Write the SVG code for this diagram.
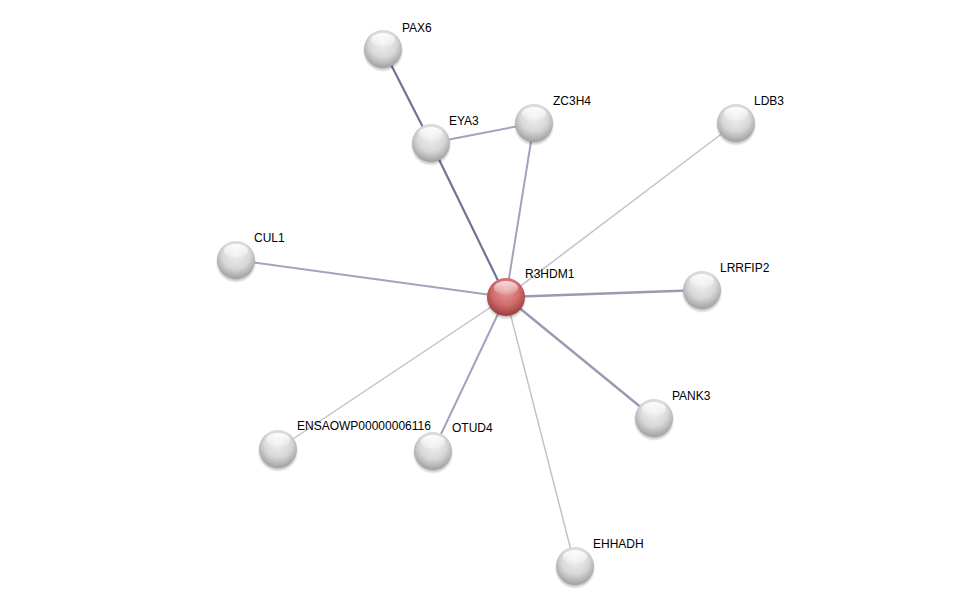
<svg xmlns="http://www.w3.org/2000/svg" width="976" height="611" viewBox="0 0 976 611">
<defs>
<radialGradient id="gw" cx="0.5" cy="0.4" r="0.6" fx="0.5" fy="0.3">
<stop offset="0" stop-color="#f2f2f2"/>
<stop offset="0.6" stop-color="#d8d8d8"/>
<stop offset="1" stop-color="#a0a0a0"/>
</radialGradient>
<radialGradient id="gr" cx="0.5" cy="0.4" r="0.6" fx="0.5" fy="0.3">
<stop offset="0" stop-color="#e89a9a"/>
<stop offset="0.6" stop-color="#d06c6c"/>
<stop offset="1" stop-color="#9a3c3c"/>
</radialGradient>
<linearGradient id="hl" x1="0" y1="0" x2="0" y2="1">
<stop offset="0" stop-color="#ffffff" stop-opacity="0.95"/>
<stop offset="1" stop-color="#ffffff" stop-opacity="0.1"/>
</linearGradient>
<radialGradient id="sh" cx="0.5" cy="0.5" r="0.5">
<stop offset="0.7" stop-color="#000" stop-opacity="0.4"/>
<stop offset="1" stop-color="#000" stop-opacity="0"/>
</radialGradient>
<g id="ball">
<circle cx="0" cy="2.5" r="20.5" fill="url(#sh)"/>
<circle r="19" fill="url(#gw)"/>
<ellipse cx="0" cy="-9" rx="12" ry="7" fill="url(#hl)"/>
</g>
<g id="ballr">
<circle cx="0" cy="2.5" r="20.5" fill="url(#sh)"/>
<circle r="19" fill="url(#gr)"/>
<ellipse cx="0" cy="-9" rx="12" ry="7" fill="url(#hl)" opacity="0.8"/>
</g>
</defs>
<style>
text{font-family:"Liberation Sans",Arial,sans-serif;font-size:12px;fill:#000}
.e{fill:none;stroke-linecap:round}
.dk{stroke:#707494;stroke-width:2.2}
.md{stroke:#a4a2bc;stroke-width:2}
.lt{stroke:#c2c2ca;stroke-width:1.5}
</style>
<rect width="976" height="611" fill="#fff"/>
<g id="edges">
<line class="e dk" x1="383" y1="49" x2="431" y2="143"/>
<line class="e md" x1="431" y1="143" x2="534" y2="123"/>
<line class="e dk" x1="431" y1="143" x2="506" y2="297"/>
<line class="e md" x1="534" y1="123" x2="506" y2="297"/>
<line class="e lt" x1="736" y1="123" x2="506" y2="297"/>
<line class="e md" x1="236" y1="260" x2="506" y2="297"/>
<line class="e md" x1="702" y1="290" x2="506" y2="297" style="stroke:#9a9ab2;stroke-width:2.4"/>
<line class="e md" x1="654" y1="418" x2="506" y2="297" style="stroke:#9a9ab2;stroke-width:2.4"/>
<line class="e lt" x1="278" y1="449" x2="506" y2="297"/>
<line class="e md" x1="433" y1="451" x2="506" y2="297"/>
<line class="e lt" x1="575" y1="566" x2="506" y2="297"/>
</g>
<g id="PAX6"><use href="#ball" x="383" y="49"/><text x="402" y="32">PAX6</text></g>
<g id="EYA3"><use href="#ball" x="431" y="143"/><text x="449" y="125">EYA3</text></g>
<g id="ZC3H4"><use href="#ball" x="534" y="123"/><text x="553" y="105">ZC3H4</text></g>
<g id="LDB3"><use href="#ball" x="736" y="123"/><text x="754" y="105">LDB3</text></g>
<g id="CUL1"><use href="#ball" x="236" y="260"/><text x="254" y="242">CUL1</text></g>
<g id="LRRFIP2"><use href="#ball" x="702" y="290"/><text x="720" y="272">LRRFIP2</text></g>
<g id="PANK3"><use href="#ball" x="654" y="418"/><text x="672" y="400">PANK3</text></g>
<g id="ENSAOWP00000006116"><use href="#ball" x="278" y="449"/><text x="297" y="430">ENSAOWP00000006116</text></g>
<g id="OTUD4"><use href="#ball" x="433" y="451"/><text x="452" y="432">OTUD4</text></g>
<g id="EHHADH"><use href="#ball" x="575" y="566"/><text x="593" y="548">EHHADH</text></g>
<g id="R3HDM1"><use href="#ballr" x="506" y="297"/><text x="525" y="278">R3HDM1</text></g>
</svg>
